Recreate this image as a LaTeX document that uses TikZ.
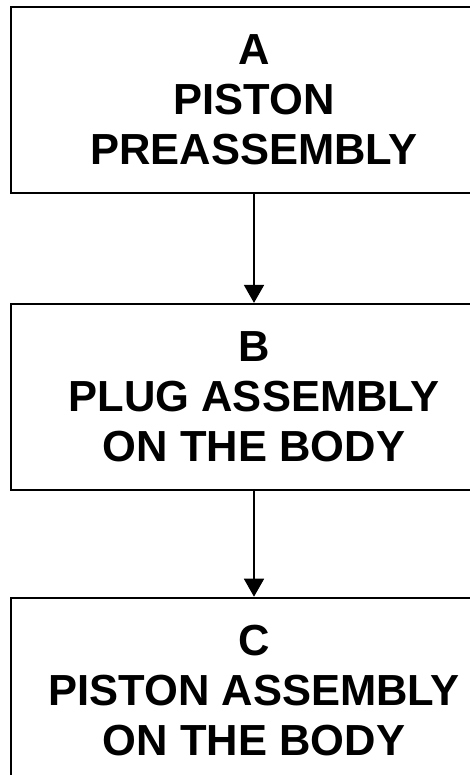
\documentclass[tikz,border=0pt]{standalone}
\usepackage{fontspec}
\setmainfont{Liberation Sans}
\usetikzlibrary{positioning,arrows.meta}

\begin{document}
\begin{tikzpicture}[x=1pt,y=1pt,
    stage/.style={draw,line width=1.8pt,minimum width=486pt,minimum height=186pt,
      inner sep=0pt,align=center,font=\fontsize{43.5}{50}\selectfont\bfseries},
    flow/.style={line width=1.8pt,-{Triangle[width=20pt,length=18pt]}}]
    \useasboundingbox (0,0) rectangle (470,-775);
    \clip (0,0) rectangle (470,-775);
    % Stages
    \node[stage] (a) at (254,-100) {A\\PISTON\\PREASSEMBLY};
    \node[stage,below=109pt of a] (b) {B\\PLUG ASSEMBLY\\ON THE BODY};
    \node[stage,below=106pt of b] (c) {C\\PISTON ASSEMBLY\\ON THE BODY};
    % Flow
    \draw[flow] (a) -- (b);
    \draw[flow] (b) -- (c);
  \end{tikzpicture}
\end{document}
